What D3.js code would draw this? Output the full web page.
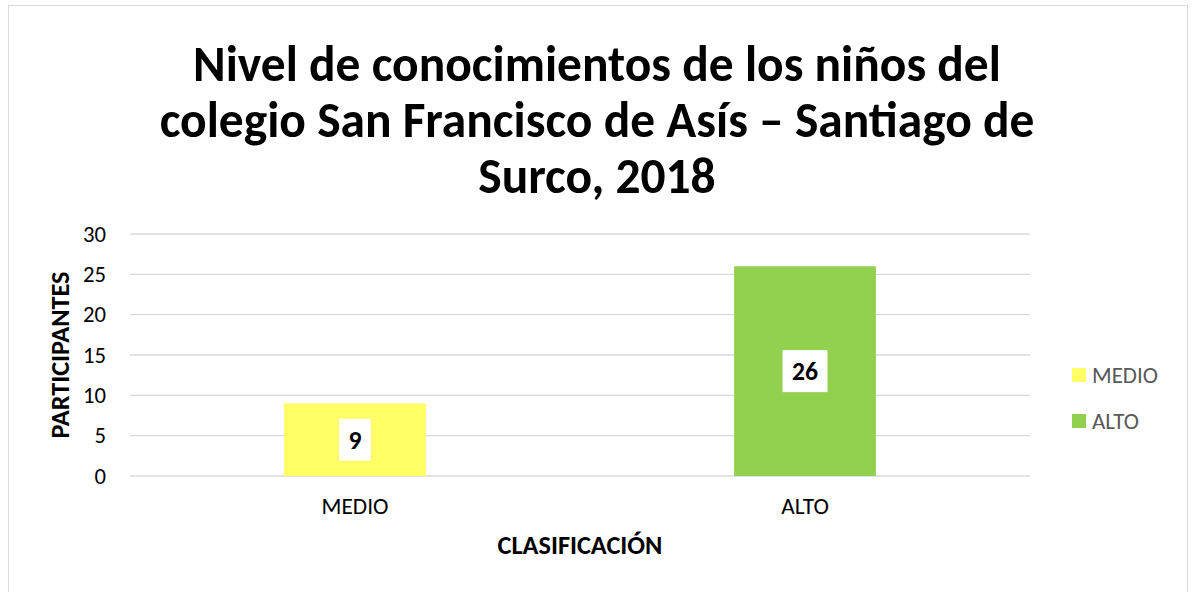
<!DOCTYPE html>
<html>
<head>
<meta charset="utf-8">
<script src="https://cdn.jsdelivr.net/npm/d3@7"></script>
<style>
  body { margin: 0; background: #fff; }
  svg { font-family: Carlito, Calibri, Lato, sans-serif; }
</style>
</head>
<body>
<svg id="chart" width="1194" height="592"></svg>
<script>
const categories = ['MEDIO', 'ALTO'];
const values = [9, 26];
const colors = ['#ffff66', '#92d050'];
const yTicks = [0, 5, 10, 15, 20, 25, 30];
const titleLines = [
  'Nivel de conocimientos de los niños del',
  'colegio San Francisco de Asís – Santiago de',
  'Surco, 2018',
];

const svg = d3.select('#chart');
const width = 1194;
const paddingLeft = 130;
const paddingRight = 164;
const paddingTop = 234;
const plotHeight = 242;
const plotWidth = width - paddingLeft - paddingRight;
const fontFamily = 'Carlito, Calibri, Lato, sans-serif';

// size a text so its rendered length matches the one measured in the picture
function fitSize(text, weight, targetWidth) {
  const probe = svg.append('text')
    .attr('font-family', fontFamily)
    .attr('font-weight', weight)
    .attr('font-size', 100)
    .text(text);
  const len = probe.node().getComputedTextLength();
  probe.remove();
  return 100 * targetWidth / len;
}

const titleSize = fitSize(titleLines[1], 'bold', 875);
const tickSize = fitSize('30', 'normal', 23);
const catSize = fitSize('MEDIO', 'normal', 67);
const axisTitleSize = fitSize('CLASIFICACIÓN', 'bold', 165);
const legendSize = fitSize('MEDIO', 'normal', 66);
const labelSize = fitSize('26', 'bold', 26);

// chart frame
svg.append('rect')
  .attr('x', 8.5)
  .attr('y', 5.5)
  .attr('width', 1179)
  .attr('height', 600)
  .attr('fill', '#fff')
  .attr('stroke', '#d9d9d9');

const scaleX = d3.scaleBand()
  .domain(categories)
  .range([paddingLeft, paddingLeft + plotWidth])
  .paddingInner(0.685)
  .paddingOuter(0.3425);

const scaleY = d3.scaleLinear()
  .domain([0, 30])
  .range([paddingTop + plotHeight, paddingTop]);

// gridlines
svg.append('g')
  .selectAll('line')
  .data(yTicks)
  .join('line')
  .attr('x1', paddingLeft)
  .attr('x2', paddingLeft + plotWidth)
  .attr('y1', d => scaleY(d))
  .attr('y2', d => scaleY(d))
  .attr('stroke', '#d9d9d9')
  .attr('stroke-width', 1.3);

// y axis labels
const yAxis = svg.append('g')
  .attr('transform', `translate(${paddingLeft - 24}, 0)`)
  .call(d3.axisLeft(scaleY).tickValues(yTicks).tickSize(0).tickPadding(0));
yAxis.select('.domain').remove();
yAxis.selectAll('text')
  .attr('font-family', fontFamily)
  .attr('font-size', tickSize)
  .attr('fill', '#000');

// bars
svg.append('g')
  .selectAll('rect')
  .data(values)
  .join('rect')
  .attr('x', (d, i) => scaleX(categories[i]))
  .attr('y', d => scaleY(d))
  .attr('width', scaleX.bandwidth())
  .attr('height', d => scaleY(0) - scaleY(d))
  .attr('fill', (d, i) => colors[i]);

// value labels in white boxes
const labels = svg.append('g')
  .selectAll('g')
  .data(values)
  .join('g')
  .attr('transform', (d, i) => `translate(${scaleX(categories[i]) + scaleX.bandwidth() / 2}, ${(scaleY(d) + scaleY(0)) / 2})`);
labels.append('rect')
  .attr('class', 'label-box')
  .attr('y', -21)
  .attr('height', 42)
  .attr('fill', '#fff');
labels.append('text')
  .attr('text-anchor', 'middle')
  .attr('dy', '0.36em')
  .attr('font-size', labelSize)
  .attr('font-weight', 'bold')
  .text(d => d);
labels.each(function () {
  const g = d3.select(this);
  const w = g.select('text').node().getComputedTextLength() + 19;
  g.select('.label-box').attr('x', -w / 2).attr('width', w);
});

// x axis labels
const xAxis = svg.append('g')
  .attr('transform', `translate(0, ${paddingTop + plotHeight})`)
  .call(d3.axisBottom(scaleX).tickSize(0).tickPadding(0));
xAxis.select('.domain').remove();
xAxis.selectAll('text')
  .attr('dy', null)
  .attr('y', 38)
  .attr('font-family', fontFamily)
  .attr('font-size', catSize)
  .attr('fill', '#000');

// axis titles
svg.append('text')
  .attr('x', paddingLeft + plotWidth / 2)
  .attr('y', 545)
  .attr('dy', '0.35em')
  .attr('text-anchor', 'middle')
  .attr('font-size', axisTitleSize)
  .attr('font-weight', 'bold')
  .text('CLASIFICACIÓN');

svg.append('text')
  .attr('transform', `translate(60, ${paddingTop + plotHeight / 2}) rotate(-90)`)
  .attr('dy', '0.35em')
  .attr('text-anchor', 'middle')
  .attr('font-size', axisTitleSize)
  .attr('font-weight', 'bold')
  .text('PARTICIPANTES');

// title
svg.append('text')
  .attr('text-anchor', 'middle')
  .attr('font-size', titleSize)
  .attr('font-weight', 'bold')
  .selectAll('tspan')
  .data(titleLines)
  .join('tspan')
  .attr('x', 597)
  .attr('y', (d, i) => 81 + i * 56)
  .text(d => d);

// legend
const legend = svg.append('g')
  .selectAll('g')
  .data(categories)
  .join('g')
  .attr('transform', (d, i) => `translate(1072, ${375 + i * 46})`);
legend.append('rect')
  .attr('x', 0)
  .attr('y', -7)
  .attr('width', 14)
  .attr('height', 14)
  .attr('fill', (d, i) => colors[i]);
legend.append('text')
  .attr('x', 20)
  .attr('dy', '0.35em')
  .attr('font-size', legendSize)
  .attr('fill', '#595959')
  .text(d => d);
</script>
</body>
</html>
